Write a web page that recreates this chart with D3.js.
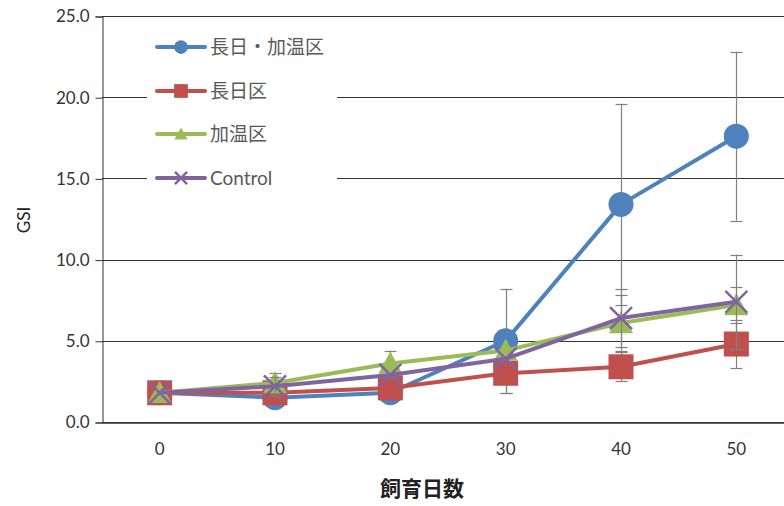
<!DOCTYPE html>
<html><head><meta charset="utf-8">
<script src="https://cdn.jsdelivr.net/npm/d3@7"></script>
<style>body{margin:0;background:#fff;} svg{display:block;}</style>
</head><body>
<svg id="c" width="784" height="506"></svg>
<script>
const categories = ["0","10","20","30","40","50"];
const seriesNames = ["長日・加温区","長日区","加温区","Control"];
const blueVals   = [1.8, 1.5, 1.8, 5.0, 13.4, 17.6];
const blueErr    = [0, 0, 0, 3.2, 6.2, 5.2];
const redVals    = [1.8, 1.8, 2.1, 3.0, 3.4, 4.8];
const redErr     = [0, 0, 0, 1.2, 0.9, 1.5];
const greenVals  = [1.8, 2.4, 3.6, 4.4, 6.1, 7.2];
const greenErr   = [0, 0.6, 0.8, 0, 1.7, 1.1];
const purpleVals = [1.8, 2.2, 2.9, 3.9, 6.4, 7.4];
const purpleErr  = [0, 0.6, 0, 0, 1.8, 2.9];
const yTicks = [0, 5, 10, 15, 20, 25];
const xTitle = "飼育日数";
const yTitle = "GSI";

(function(){
const svg = d3.select("#c");
const pLeft = 102, pTop = 16, pBottom = 422, pRight = 794;
const x = d3.scaleBand().domain(categories).range([pLeft, pRight]);
const y = d3.scaleLinear().domain([0, 25]).range([pBottom, pTop]);
const cx = c => x(c) + x.bandwidth()/2;

const tickFont = "Lato, 'Open Sans', sans-serif";
const jpFont = "'Noto Sans CJK JP', sans-serif";

// gridlines
svg.append("g").selectAll("line").data(yTicks).join("line")
  .attr("x1", pLeft).attr("x2", 784)
  .attr("y1", d => Math.round(y(d)) + 0.5).attr("y2", d => Math.round(y(d)) + 0.5)
  .attr("stroke", "#333").attr("stroke-width", 1);

// y axis
const yAxis = d3.axisLeft(y).tickValues(yTicks).tickFormat(d3.format(".1f")).tickSize(7).tickPadding(6);
const gy = svg.append("g").attr("transform", `translate(${pLeft + 0.5},0.5)`).call(yAxis);
gy.select(".domain").attr("stroke", "#333");
gy.selectAll(".tick line").attr("stroke", "#333");
gy.selectAll(".tick text").attr("font-family", tickFont).attr("font-size", 17).attr("fill", "#333");

// x axis
const xAxis = d3.axisBottom(x).tickSize(0).tickPadding(20);
const gx = svg.append("g").attr("transform", `translate(0,${pBottom + 0.5})`).call(xAxis);
gx.select(".domain").attr("stroke", "#333").attr("stroke-width", 1.5);
gx.selectAll(".tick text").attr("font-family", tickFont).attr("font-size", 17).attr("fill", "#333");

// titles
svg.append("text").attr("x", 422).attr("y", 496).attr("text-anchor", "middle")
  .attr("font-family", jpFont).attr("font-weight", "bold").attr("font-size", 21).attr("fill", "#222").text(xTitle);
svg.append("text").attr("transform", "translate(30,220) rotate(-90)").attr("text-anchor", "middle")
  .attr("font-family", tickFont).attr("font-size", 17).attr("fill", "#222").text(yTitle);

const series = [
  {name: seriesNames[0], vals: blueVals, err: blueErr, color: "#4F81BD", marker: "circle"},
  {name: seriesNames[1], vals: redVals, err: redErr, color: "#C0504D", marker: "square"},
  {name: seriesNames[2], vals: greenVals, err: greenErr, color: "#9BBB59", marker: "triangle"},
  {name: seriesNames[3], vals: purpleVals, err: purpleErr, color: "#8064A2", marker: "x"}
];

function drawMarker(g, type, color, px, py, scale) {
  scale = scale || 1;
  if (type === "circle") {
    g.append("circle").attr("cx", px).attr("cy", py).attr("r", 12.5*scale).attr("fill", color);
  } else if (type === "square") {
    const s = 25*scale;
    g.append("rect").attr("x", px - s/2).attr("y", py - s/2).attr("width", s).attr("height", s).attr("fill", color);
  } else if (type === "triangle") {
    const s = 12*scale;
    g.append("path").attr("d", `M${px},${py - s}L${px + s*1.0},${py + s*0.85}L${px - s*1.0},${py + s*0.85}Z`).attr("fill", color);
  } else if (type === "x") {
    const s = 11*scale;
    g.append("path").attr("d", `M${px - s},${py - s}L${px + s},${py + s}M${px - s},${py + s}L${px + s},${py - s}`)
      .attr("stroke", color).attr("stroke-width", 2.5).attr("fill", "none");
  }
}

const line = d3.line().x((d, i) => cx(categories[i])).y(d => y(d));
const plot = svg.append("g");
series.forEach(s => {
  const eg = plot.append("g");
  s.vals.forEach((v, i) => {
    const e = s.err[i];
    if (!e) return;
    const px = Math.round(cx(categories[i])) + 0.5;
    eg.append("line").attr("x1", px).attr("x2", px).attr("y1", y(v - e)).attr("y2", y(v + e))
      .attr("stroke", "#808080").attr("stroke-width", 1.2);
    [v - e, v + e].forEach(t => {
      eg.append("line").attr("x1", px - 6).attr("x2", px + 6).attr("y1", Math.round(y(t)) + 0.5).attr("y2", Math.round(y(t)) + 0.5)
        .attr("stroke", "#808080").attr("stroke-width", 1.2);
    });
  });
  plot.append("path").datum(s.vals).attr("d", line).attr("fill", "none")
    .attr("stroke", s.color).attr("stroke-width", 4).attr("stroke-linejoin", "round").attr("stroke-linecap", "round");
  const mg = plot.append("g");
  s.vals.forEach((v, i) => drawMarker(mg, s.marker, s.color, cx(categories[i]), y(v)));
});

// legend
const lg = svg.append("g");
lg.append("rect").attr("x", 147).attr("y", 28).attr("width", 190).attr("height", 168).attr("fill", "#fff");
const legendY = [47, 91, 134, 178];
series.forEach((s, i) => {
  const ly = legendY[i];
  lg.append("line").attr("x1", 157).attr("x2", 205).attr("y1", ly).attr("y2", ly)
    .attr("stroke", s.color).attr("stroke-width", 4).attr("stroke-linecap", "round");
  drawMarker(lg, s.marker, s.color, 181, ly, 0.55);
  lg.append("text").attr("x", 210).attr("y", ly).attr("dy", "0.36em")
    .attr("font-family", s.name === "Control" ? tickFont : jpFont)
    .attr("font-size", 19).attr("fill", "#595959").text(s.name);
});
})();
</script>
</body></html>
